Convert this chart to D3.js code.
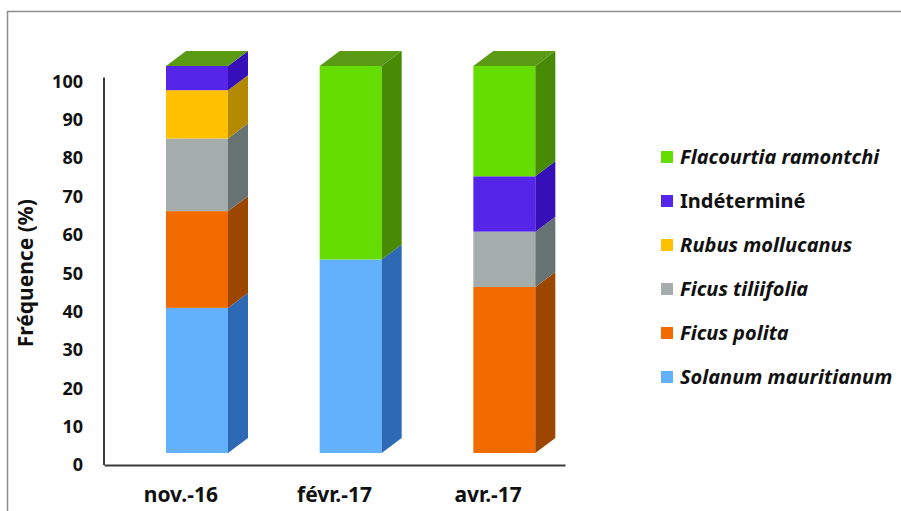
<!DOCTYPE html>
<html>
<head>
<meta charset="utf-8">
<script src="https://cdn.jsdelivr.net/npm/d3@7"></script>
<style>
  body { margin: 0; background: #fff; }
  text { font-family: "Noto Sans", "Open Sans", sans-serif; font-weight: bold; fill: #111; }
</style>
</head>
<body>
<svg id="chart" width="901" height="511"></svg>
<script>
const categories = ["nov.-16", "févr.-17", "avr.-17"];
const species = ["Solanum mauritianum", "Ficus polita", "Ficus tiliifolia", "Rubus mollucanus", "Indéterminé", "Flacourtia ramontchi"];
const solanum = [37.5, 50, 0];
const ficusPolita = [25, 0, 42.9];
const ficusTiliifolia = [18.75, 0, 14.3];
const rubus = [12.5, 0, 0];
const indetermine = [6.25, 0, 14.3];
const flacourtia = [0, 50, 28.5];
const yTicks = [0, 10, 20, 30, 40, 50, 60, 70, 80, 90, 100];

const seriesValues = [solanum, ficusPolita, ficusTiliifolia, rubus, indetermine, flacourtia];
const front = ["#63b1fd", "#f26b00", "#a4acac", "#ffc000", "#5526ea", "#66dd00"];
const side = ["#2d69b5", "#9c4600", "#677272", "#b38900", "#3510b8", "#478a04"];
const topGreen = "#5a9a14";

const svg = d3.select("#chart");

/* frame */
svg.append("path")
  .attr("d", "M7.5,520 V11.5 H910")
  .attr("fill", "none").attr("stroke", "#8c8c8c").attr("stroke-width", 1.5);

/* scales */
const x = d3.scaleBand().domain(categories).range([104, 565]);
const yAxisScale = d3.scaleLinear().domain([0, 100]).range([465, 81.5]);
const yBar = d3.scaleLinear().domain([0, 100]).range([453, 66]);
const depthX = 20, depthY = -15;
const barOffset = 62, barW = 62;

const table = categories.map((c, i) => {
  const row = { cat: c };
  species.forEach((s, j) => row[s] = seriesValues[j][i]);
  return row;
});
const stacked = d3.stack().keys(species)(table);

/* axes */
const yAxis = d3.axisLeft(yAxisScale).tickValues(yTicks).tickSize(0).tickPadding(21);
const gy = svg.append("g").attr("transform", "translate(104,0)").call(yAxis);
gy.select(".domain").attr("stroke", "#3a3a3a").attr("stroke-width", 2)
  .attr("d", `M0,${yAxisScale(100) - 4}V${yAxisScale(0)}`);
gy.selectAll("text").attr("font-size", 18).style("fill", "#111")
  .attr("font-family", "Noto Sans, sans-serif").attr("font-weight", "bold");

const xAxis = d3.axisBottom(x).tickSize(0).tickPadding(22);
const gx = svg.append("g").attr("transform", `translate(0,${yAxisScale(0)})`).call(xAxis);
gx.select(".domain").attr("stroke", "#3a3a3a").attr("stroke-width", 2);
gx.selectAll("text").attr("font-size", 21).style("fill", "#111")
  .attr("font-family", "Noto Sans, sans-serif").attr("font-weight", "bold");

svg.append("text")
  .attr("transform", `translate(33,${(yAxisScale(0) + yAxisScale(100)) / 2}) rotate(-90)`)
  .attr("text-anchor", "middle")
  .attr("font-size", 21)
  .text("Fréquence (%)");

/* 3d bars */
const bars = svg.append("g");
categories.forEach((c, i) => {
  const x0 = x(c) + barOffset, x1 = x0 + barW;
  stacked.forEach((layer, j) => {
    const d = layer[i];
    if (d[1] - d[0] <= 0) return;
    const yt = yBar(d[1]), yb = yBar(d[0]);
    bars.append("rect")
      .attr("x", x0).attr("y", yt).attr("width", barW).attr("height", yb - yt)
      .attr("fill", front[j]);
    bars.append("path")
      .attr("d", `M${x1},${yt}L${x1 + depthX},${yt + depthY}L${x1 + depthX},${yb + depthY}L${x1},${yb}Z`)
      .attr("fill", side[j]);
  });
  // top face: excel paints it with the last series, even when that one is 0
  const yt = yBar(stacked[stacked.length - 1][i][1]);
  bars.append("path")
    .attr("d", `M${x0},${yt}L${x0 + depthX},${yt + depthY}L${x1 + depthX},${yt + depthY}L${x1},${yt}Z`)
    .attr("fill", topGreen);
});

/* legend */
const legend = svg.append("g").attr("transform", "translate(661,0)");
const order = d3.range(species.length).reverse();
order.forEach((j, k) => {
  const cy = 157 + k * 44;
  legend.append("rect")
    .attr("x", 0).attr("y", cy - 6).attr("width", 12).attr("height", 12)
    .attr("fill", front[j]);
  legend.append("text")
    .attr("x", 19).attr("y", cy).attr("dy", "0.35em")
    .attr("font-size", 20)
    .attr("font-style", species[j] === "Indéterminé" ? "normal" : "italic")
    .text(species[j]);
});
</script>
</body>
</html>
